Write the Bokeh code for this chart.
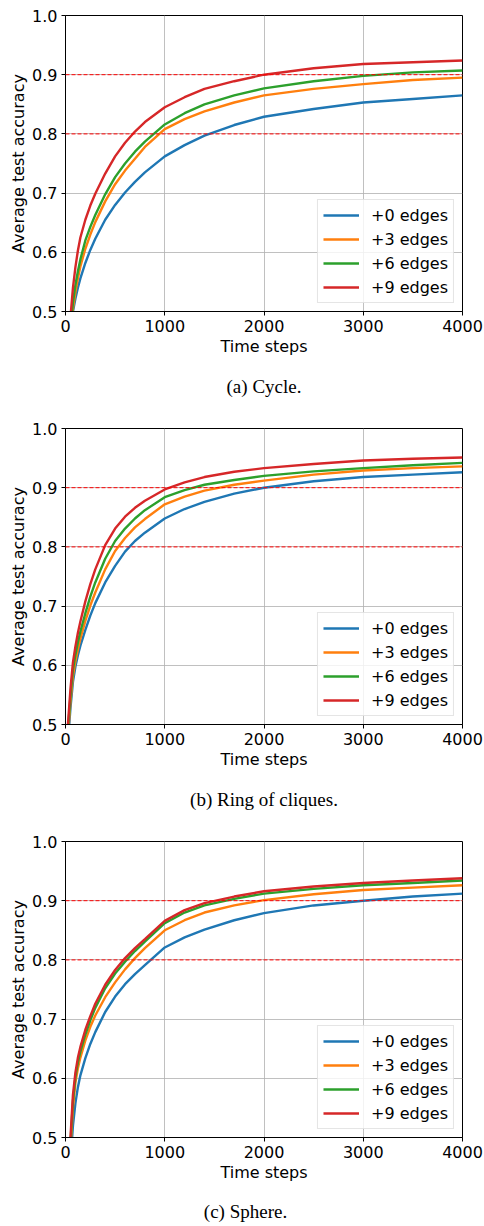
from bokeh.plotting import figure
from bokeh.layouts import column
from bokeh.models import (Range1d, FixedTicker, NumeralTickFormatter, Span, Title, Div)
from bokeh.embed import file_html
from bokeh.resources import INLINE

# ---------------- data ----------------
steps = [20, 50, 75, 100, 125, 150, 200, 250, 300, 400, 500, 600, 700, 800, 1000,
         1200, 1400, 1700, 2000, 2500, 3000, 3500, 4000]

series_labels = ["+0 edges", "+3 edges", "+6 edges", "+9 edges"]
series_colors = ["#1f77b4", "#ff7f0e", "#2ca02c", "#d62728"]

# (a) Cycle
cycle_e0 = [0.33, 0.44, 0.50, 0.522, 0.54, 0.556, 0.582, 0.604, 0.623, 0.655, 0.68, 0.701, 0.719,
            0.735, 0.762, 0.781, 0.797, 0.815, 0.829, 0.842, 0.853, 0.859, 0.865]
cycle_e3 = [0.35, 0.455, 0.505, 0.533, 0.556, 0.576, 0.606, 0.63, 0.651, 0.686, 0.715, 0.738, 0.758,
            0.778, 0.808, 0.825, 0.838, 0.853, 0.865, 0.876, 0.884, 0.891, 0.895]
cycle_e6 = [0.36, 0.47, 0.515, 0.545, 0.568, 0.588, 0.62, 0.643, 0.663, 0.698, 0.727, 0.75, 0.77,
            0.787, 0.816, 0.835, 0.85, 0.865, 0.877, 0.889, 0.898, 0.904, 0.907]
cycle_e9 = [0.38, 0.49, 0.54, 0.575, 0.603, 0.625, 0.655, 0.679, 0.699, 0.733, 0.762, 0.785, 0.804,
            0.82, 0.845, 0.862, 0.876, 0.889, 0.90, 0.911, 0.918, 0.921, 0.924]

# (b) Ring of cliques
ring_e0 = [0.46, 0.528, 0.572, 0.598, 0.617, 0.633, 0.66, 0.684, 0.705, 0.74, 0.768, 0.792, 0.81,
           0.824, 0.848, 0.864, 0.876, 0.89, 0.90, 0.911, 0.918, 0.922, 0.926]
ring_e3 = [0.47, 0.538, 0.582, 0.607, 0.627, 0.645, 0.675, 0.701, 0.723, 0.762, 0.793, 0.815, 0.833,
           0.847, 0.872, 0.885, 0.895, 0.905, 0.912, 0.922, 0.929, 0.933, 0.936]
ring_e6 = [0.48, 0.548, 0.593, 0.618, 0.639, 0.657, 0.688, 0.716, 0.74, 0.78, 0.81, 0.831, 0.848,
           0.862, 0.884, 0.896, 0.905, 0.913, 0.92, 0.9275, 0.933, 0.938, 0.942]
ring_e9 = [0.49, 0.56, 0.605, 0.632, 0.655, 0.674, 0.708, 0.737, 0.762, 0.803, 0.831, 0.851, 0.866,
           0.878, 0.897, 0.909, 0.918, 0.927, 0.933, 0.94, 0.946, 0.949, 0.951]

# (c) Sphere
sphere_e0 = [0.36, 0.46, 0.52, 0.558, 0.585, 0.605, 0.634, 0.658, 0.678, 0.712, 0.738, 0.759, 0.776,
             0.791, 0.821, 0.838, 0.851, 0.867, 0.879, 0.892, 0.90, 0.907, 0.912]
sphere_e3 = [0.38, 0.48, 0.55, 0.593, 0.617, 0.635, 0.664, 0.687, 0.706, 0.737, 0.762, 0.784, 0.803,
             0.82, 0.85, 0.867, 0.88, 0.892, 0.901, 0.911, 0.918, 0.922, 0.926]
sphere_e6 = [0.39, 0.49, 0.562, 0.602, 0.627, 0.645, 0.674, 0.698, 0.719, 0.752, 0.777, 0.797, 0.815,
             0.831, 0.862, 0.88, 0.892, 0.903, 0.912, 0.92, 0.926, 0.93, 0.934]
sphere_e9 = [0.40, 0.50, 0.572, 0.61, 0.635, 0.653, 0.682, 0.705, 0.726, 0.758, 0.783, 0.803, 0.82,
             0.835, 0.866, 0.884, 0.896, 0.907, 0.916, 0.924, 0.93, 0.934, 0.938]

x_ticks = [0, 1000, 2000, 3000, 4000]
y_ticks = [0.5, 0.6, 0.7, 0.8, 0.9, 1.0]
threshold_levels = [0.8, 0.9]

captions = ["(a) Cycle.", "(b) Ring of cliques.", "(c) Sphere."]

SANS = "DejaVu Sans"
SERIF = "Liberation Serif"


def make_panel(values, caption, height, top, bottom, cap_standoff):
    p = figure(width=484, height=height, output_backend="svg", toolbar_location=None,
               x_range=Range1d(0, 4000), y_range=Range1d(0.5, 1.0),
               min_border_left=65, min_border_right=22,
               min_border_top=top, min_border_bottom=bottom)
    p.background_fill_color = "white"
    p.border_fill_color = "white"
    p.outline_line_color = "black"
    p.outline_line_width = 1

    for lvl in threshold_levels:
        p.add_layout(Span(location=lvl, dimension="width", line_color="red",
                          line_dash="4 2", line_width=1))

    for vals, lab, col in zip(values, series_labels, series_colors):
        p.line(steps, vals, line_color=col, line_width=2.4, legend_label=lab)

    for ax in (p.xaxis[0], p.yaxis[0]):
        ax.major_label_text_font = SANS
        ax.major_label_text_font_size = "16px"
        ax.major_label_text_color = "black"
        ax.axis_label_text_font = SANS
        ax.axis_label_text_font_size = "16px"
        ax.axis_label_text_font_style = "normal"
        ax.axis_label_text_color = "black"
        ax.axis_line_color = "black"
        ax.major_tick_line_color = "black"
        ax.minor_tick_line_color = None
        ax.major_tick_out = 4
        ax.major_tick_in = 0
        ax.major_label_standoff = 4
    p.xaxis.axis_label_standoff = 2
    p.yaxis.axis_label_standoff = 1

    p.xaxis.ticker = FixedTicker(ticks=x_ticks)
    p.yaxis.ticker = FixedTicker(ticks=y_ticks)
    p.yaxis.formatter = NumeralTickFormatter(format="0.0")
    p.xaxis.axis_label = "Time steps"
    p.yaxis.axis_label = "Average test accuracy"

    p.grid.grid_line_color = "#b0b0b0"
    p.grid.grid_line_alpha = 0.8
    p.grid.grid_line_width = 1
    p.xgrid.ticker = FixedTicker(ticks=x_ticks)
    p.ygrid.ticker = FixedTicker(ticks=y_ticks)

    lg = p.legend[0]
    lg.location = "bottom_right"
    lg.margin = 8
    lg.padding = 5
    lg.spacing = 4
    lg.glyph_width = 36
    lg.glyph_height = 20
    lg.label_height = 20
    lg.label_standoff = 12
    lg.label_text_font = SANS
    lg.label_text_font_size = "16px"
    lg.label_text_color = "black"
    lg.border_line_color = "#cccccc"
    lg.border_line_width = 1
    lg.background_fill_alpha = 0.8

    if caption is not None:
        cap = Title(text=caption, align="center", text_font=SERIF,
                    text_font_size="19px", text_font_style="normal", text_color="black",
                    offset=-23, standoff=cap_standoff)
        p.add_layout(cap, "below")
    return p


p1 = make_panel([cycle_e0, cycle_e3, cycle_e6, cycle_e9], captions[0], 413, 15, 102, 31)
p2 = make_panel([ring_e0, ring_e3, ring_e6, ring_e9], captions[1], 413, 15, 102, 31)
p3 = make_panel([sphere_e0, sphere_e3, sphere_e6, sphere_e9], None, 361, 15, 50, 0)

cap3 = Div(text=captions[2], width=484, height=39,
           styles={"font-family": SERIF, "font-size": "19px", "color": "black",
                   "text-align": "center", "padding-top": "9px",
                   "padding-right": "3px", "box-sizing": "border-box",
                   "line-height": "22px"})

layout = column(p1, p2, p3, cap3)
open("out.html", "w").write(file_html(layout, INLINE))
